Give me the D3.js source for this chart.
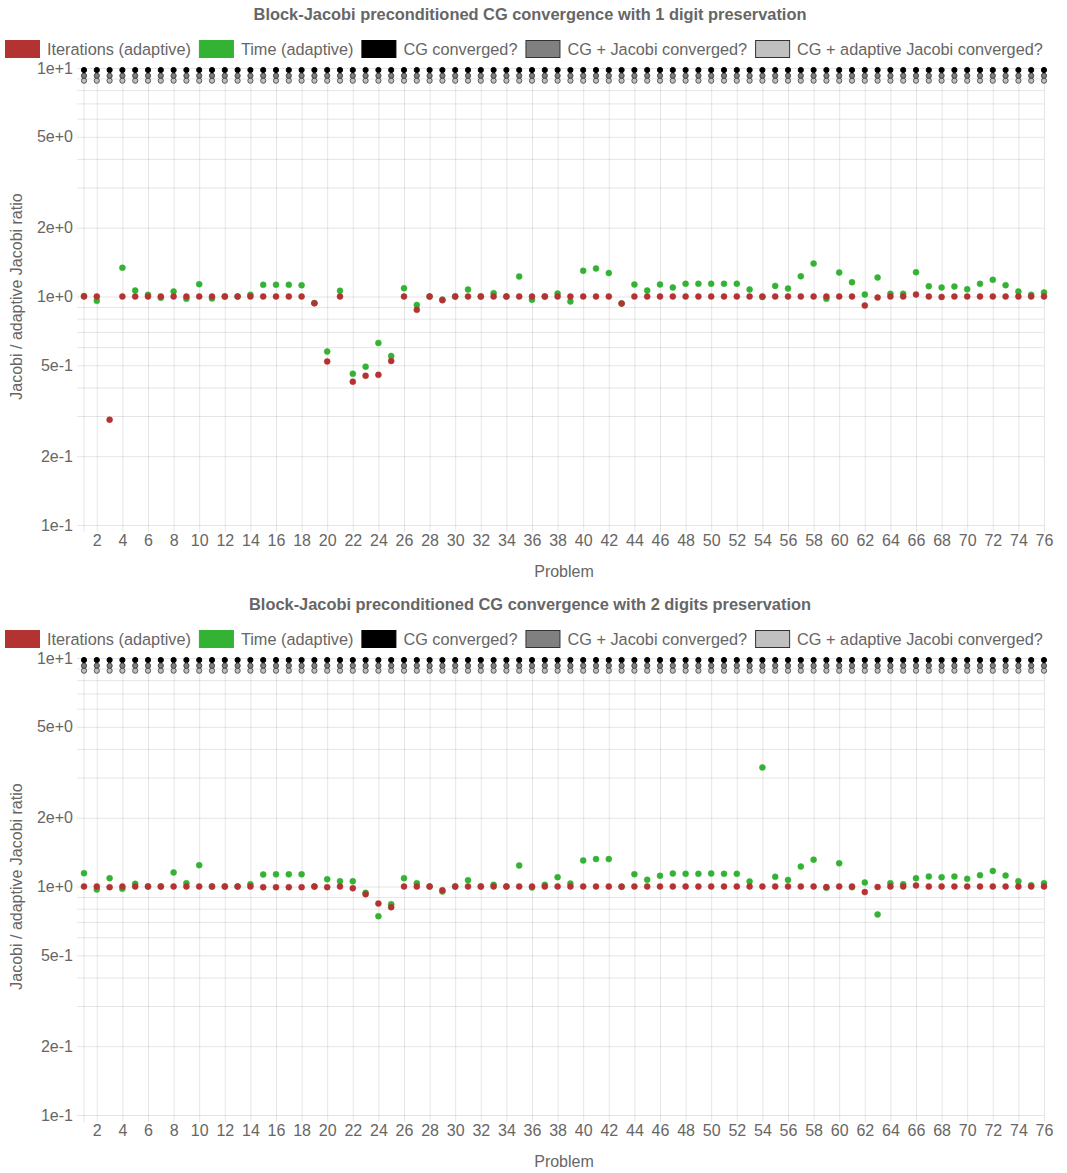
<!DOCTYPE html>
<html>
<head>
<meta charset="utf-8">
<script src="https://cdn.jsdelivr.net/npm/d3@7"></script>
<style>
    body { margin: 0; background: #fff; }
    svg { display: block; font-family: "Liberation Sans", Arial, Helvetica, sans-serif; }
</style>
</head>
<body>
<div id="charts"></div>
<script>
// =============================================================================
// data
// =============================================================================
var problems = d3.range(1, 77);
var xTickProblems = problems.filter(function (p) { return p % 2 === 0; });

var yTickValues = [0.1, 0.2, 0.5, 1, 2, 5, 10];
var yTickLabels = ["1e-1", "2e-1", "5e-1", "1e+0", "2e+0", "5e+0", "1e+1"];

// 1 digit preservation
var iterations1 = [
    1.0, 1.0, 0.289, 1.0, 1.0, 1.0, 1.0, 1.0, 1.0, 1.0,
    1.0, 1.0, 1.0, 1.0, 1.0, 1.0, 1.0, 1.0, 0.935, 0.52,
    1.0, 0.424, 0.45, 0.454, 0.522, 1.0, 0.874, 1.0, 0.963, 1.0,
    1.0, 1.0, 1.0, 1.0, 1.0, 1.0, 1.0, 1.0, 1.0, 1.0,
    1.0, 1.0, 0.932, 1.0, 1.0, 1.0, 1.0, 1.0, 1.0, 1.0,
    1.0, 1.0, 1.0, 1.0, 1.0, 1.0, 1.0, 1.0, 1.0, 1.0,
    1.0, 0.913, 0.99, 1.0, 1.0, 1.02, 1.0, 0.995, 1.0, 1.0,
    1.0, 1.0, 1.0, 1.0, 1.0, 1.0
];
var time1 = [
    1.005, 0.957, null, 1.336, 1.062, 1.017, 0.987, 1.052, 0.977, 1.132,
    0.98, 1.0, 1.0, 1.017, 1.125, 1.125, 1.125, 1.12, 0.935, 0.574,
    1.059, 0.459, 0.493, 0.626, 0.549, 1.087, 0.919, 1.0, 0.97, 1.0,
    1.073, 1.0, 1.034, 1.0, 1.224, 0.967, 1.0, 1.03, 0.951, 1.296,
    1.327, 1.266, 0.932, 1.129, 1.062, 1.129, 1.095, 1.137, 1.137, 1.137,
    1.137, 1.137, 1.073, 0.995, 1.113, 1.084, 1.226, 1.393, 0.977, 1.273,
    1.155, 1.02, 1.211, 1.027, 1.027, 1.277, 1.109, 1.095, 1.106, 1.076,
    1.136, 1.183, 1.121, 1.052, 1.017, 1.041
];

// 2 digits preservation
var iterations2 = [
    1.0, 1.0, 0.993, 1.0, 1.0, 1.0, 1.0, 1.0, 1.0, 1.0,
    1.0, 1.0, 1.0, 1.0, 0.993, 0.993, 0.993, 0.993, 1.0, 0.993,
    1.0, 0.983, 0.925, 0.842, 0.812, 1.0, 1.0, 1.0, 0.963, 1.0,
    1.0, 1.0, 1.0, 1.0, 1.0, 1.0, 1.0, 1.0, 1.0, 1.0,
    1.0, 1.0, 0.997, 1.0, 1.0, 1.0, 1.0, 1.0, 1.0, 1.0,
    1.0, 1.0, 1.0, 1.0, 1.0, 1.0, 1.0, 1.0, 0.995, 1.0,
    1.0, 0.945, 0.995, 1.0, 1.0, 1.01, 1.0, 1.0, 1.0, 1.0,
    1.0, 1.0, 1.0, 1.0, 1.0, 1.0
];
var time2 = [
    1.144, 0.97, 1.088, 0.977, 1.027, 1.0, 1.0, 1.152, 1.034, 1.24,
    1.0, 1.0, 1.0, 1.023, 1.129, 1.13, 1.13, 1.13, 1.0, 1.076,
    1.055, 1.055, 0.938, 0.741, 0.836, 1.088, 1.034, 1.0, 0.95, 1.0,
    1.066, 1.0, 1.017, 1.0, 1.236, 0.99, 1.017, 1.099, 1.03, 1.3,
    1.318, 1.318, 1.0, 1.132, 1.07, 1.114, 1.14, 1.136, 1.136, 1.14,
    1.136, 1.136, 1.052, 3.32, 1.102, 1.069, 1.222, 1.311, 0.987, 1.264,
    0.993, 1.041, 0.755, 1.034, 1.024, 1.087, 1.106, 1.098, 1.106, 1.08,
    1.121, 1.17, 1.116, 1.055, 1.013, 1.034
];

// convergence flags (1 = converged), same for both runs
var cgConverged = [
    1,1,1,1,1,1,1,1,1,1, 1,1,1,1,1,1,1,1,1,1, 1,1,1,1,1,1,1,1,1,1,
    1,1,1,1,1,1,1,1,1,1, 1,1,1,1,1,1,1,1,1,1, 1,1,1,1,1,1,1,1,1,1,
    1,1,1,1,1,1,1,1,1,1, 1,1,1,1,1,1
];
var jacobiConverged = [
    1,1,1,1,1,1,1,1,1,1, 1,1,1,1,1,1,1,1,1,1, 1,1,1,1,1,1,1,1,1,1,
    1,1,1,1,1,1,1,1,1,1, 1,1,1,1,1,1,1,1,1,1, 1,1,1,1,1,1,1,1,1,1,
    1,1,1,1,1,1,1,1,1,1, 1,1,1,1,1,1
];
var adaptiveConverged = [
    1,1,1,1,1,1,1,1,1,1, 1,1,1,1,1,1,1,1,1,1, 1,1,1,1,1,1,1,1,1,1,
    1,1,1,1,1,1,1,1,1,1, 1,1,1,1,1,1,1,1,1,1, 1,1,1,1,1,1,1,1,1,1,
    1,1,1,1,1,1,1,1,1,1, 1,1,1,1,1,1
];
// value at which a converged flag is plotted
var cgLevel = 9.8, jacobiLevel = 9.25, adaptiveLevel = 8.8;

var legendItems = [
    { label: "Iterations (adaptive)", fill: "#b33333", stroke: "#b33333" },
    { label: "Time (adaptive)", fill: "#33b233", stroke: "#33b233" },
    { label: "CG converged?", fill: "#000000", stroke: "#000000" },
    { label: "CG + Jacobi converged?", fill: "#808080", stroke: "#333333" },
    { label: "CG + adaptive Jacobi converged?", fill: "#c0c0c0", stroke: "#333333" }
];

// =============================================================================
// layout
// =============================================================================
var _width = 1067, _height = 1173;
var _chartHeight = 590;
var _margin = { top: 68, left: 84, right: 23, bottom: 65 };
var _plotWidth = _width - _margin.left - _margin.right;   // 960
var _plotHeight = 457;
var _textColor = "#666";
var _gridColor = "rgba(0,0,0,0.1)";

var _svg = d3.select("#charts").append("svg")
    .attr("width", _width)
    .attr("height", _height);

drawChart(0, "Block-Jacobi preconditioned CG convergence with 1 digit preservation", iterations1, time1);
drawChart(_chartHeight, "Block-Jacobi preconditioned CG convergence with 2 digits preservation", iterations2, time2);

function drawChart(offsetY, title, iterations, time) {

    var chart = _svg.append("g")
        .attr("transform", "translate(0," + offsetY + ")");

    // title
    chart.append("text")
        .attr("x", 530)
        .attr("y", 14)
        .attr("dy", "0.35em")
        .attr("text-anchor", "middle")
        .style("font-size", "16.4px")
        .style("font-weight", "bold")
        .attr("fill", _textColor)
        .text(title);

    // legend
    var legend = chart.append("g").attr("class", "legend");
    var lx = 5;
    legendItems.forEach(function (item) {
        legend.append("rect")
            .attr("x", lx + 0.5)
            .attr("y", 40.5)
            .attr("width", 34)
            .attr("height", 17)
            .attr("fill", item.fill)
            .attr("stroke", item.stroke)
            .attr("stroke-width", 1);
        var t = legend.append("text")
            .attr("x", lx + 42)
            .attr("y", 49)
            .attr("dy", "0.35em")
            .style("font-size", "16.3px")
            .attr("fill", _textColor)
            .text(item.label);
        lx += 42 + t.node().getComputedTextLength() + 8;
    });

    var x = d3.scalePoint()
        .domain(problems)
        .range([_margin.left, _margin.left + _plotWidth]);

    var y = d3.scaleLog()
        .domain([0.1, 10])
        .range([_margin.top + _plotHeight, _margin.top]);

    // Y grid + ticks (1..9 per decade)
    var yGridValues = [];
    [0.1, 1].forEach(function (d) {
        for (var k = 1; k < 10; k++) yGridValues.push(+(k * d).toFixed(2));
    });
    yGridValues.push(10);

    chart.append("g")
        .attr("class", "yAxis")
        .attr("transform", "translate(" + (_margin.left + _plotWidth) + ",0)")
        .call(d3.axisLeft(y)
            .tickValues(yGridValues)
            .tickSizeInner(_plotWidth + 7)
            .tickSizeOuter(0)
            .tickPadding(4)
            .tickFormat(function (d) {
                var i = yTickValues.findIndex(function (v) { return Math.abs(v - d) < 1e-9; });
                return i >= 0 ? yTickLabels[i] : "";
            }))
        .call(function (g) { g.select(".domain").remove(); })
        .call(function (g) {
            g.selectAll("line").attr("stroke", _gridColor);
            g.selectAll("text")
                .attr("fill", _textColor)
                .style("font-size", "16px")
                .style("font-family", "inherit");
        });

    // X grid + ticks
    chart.append("g")
        .attr("class", "xAxis")
        .attr("transform", "translate(0," + _margin.top + ")")
        .call(d3.axisBottom(x)
            .tickValues(xTickProblems)
            .tickSizeInner(_plotHeight + 7)
            .tickSizeOuter(0)
            .tickPadding(3))
        .call(function (g) { g.select(".domain").remove(); })
        .call(function (g) {
            g.selectAll("line").attr("stroke", _gridColor);
            g.selectAll("text")
                .attr("fill", _textColor)
                .style("font-size", "16px")
                .style("font-family", "inherit");
        });

    // left border of the plot area
    chart.append("line")
        .attr("x1", x(1)).attr("x2", x(1))
        .attr("y1", _margin.top).attr("y2", _margin.top + _plotHeight + 7)
        .attr("stroke", _gridColor);

    // axis titles
    chart.append("text")
        .attr("transform", "translate(16," + (_margin.top + _plotHeight / 2) + ") rotate(-90)")
        .attr("dy", "0.35em")
        .attr("text-anchor", "middle")
        .style("font-size", "16px")
        .attr("fill", _textColor)
        .text("Jacobi / adaptive Jacobi ratio");

    chart.append("text")
        .attr("x", _margin.left + _plotWidth / 2)
        .attr("y", 571)
        .attr("dy", "0.35em")
        .attr("text-anchor", "middle")
        .style("font-size", "16px")
        .attr("fill", _textColor)
        .text("Problem");

    // convergence markers (drawn last dataset first, like the original)
    drawFlags(chart, x, y, adaptiveConverged, adaptiveLevel, "#c0c0c0", "#555");
    drawFlags(chart, x, y, jacobiConverged, jacobiLevel, "#808080", "#444");
    drawFlags(chart, x, y, cgConverged, cgLevel, "#000", "#000");

    drawPoints(chart, x, y, time, "#33b233");
    drawPoints(chart, x, y, iterations, "#b33333");
}

function drawPoints(g, x, y, values, color) {
    var data = problems.map(function (p, i) { return { p: p, v: values[i] }; })
        .filter(function (d) { return d.v != null; });
    g.append("g").selectAll("circle")
        .data(data)
        .enter().append("circle")
        .attr("cx", function (d) { return x(d.p); })
        .attr("cy", function (d) { return y(d.v); })
        .attr("r", 3)
        .attr("fill", color)
        .attr("stroke", color)
        .attr("stroke-width", 0.5);
}

function drawFlags(g, x, y, flags, level, fill, stroke) {
    var data = problems.filter(function (p, i) { return flags[i]; });
    g.append("g").selectAll("circle")
        .data(data)
        .enter().append("circle")
        .attr("cx", function (p) { return x(p); })
        .attr("cy", y(level))
        .attr("r", 2.6)
        .attr("fill", fill)
        .attr("stroke", stroke)
        .attr("stroke-width", 1);
}
</script>
</body>
</html>
